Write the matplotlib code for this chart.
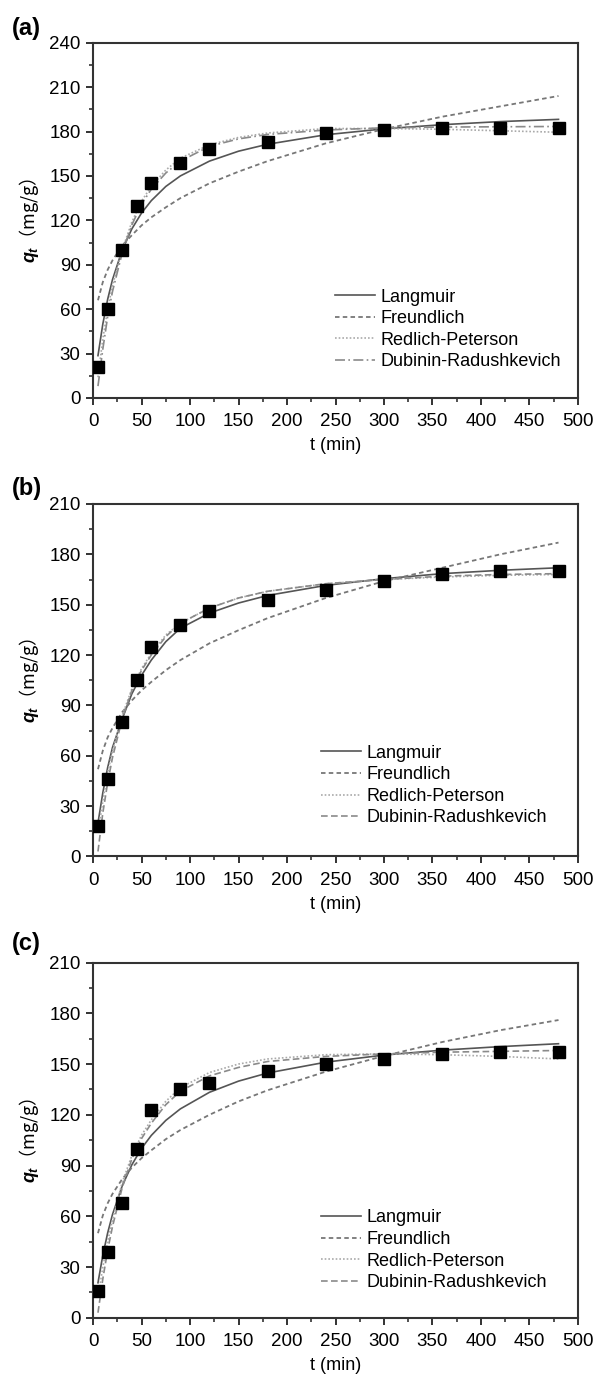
import numpy as np
import matplotlib
matplotlib.use('Agg')
import matplotlib.pyplot as plt
from matplotlib.ticker import MultipleLocator

plt.rcParams['font.family'] = ['Liberation Sans', 'Noto Sans CJK SC', 'DejaVu Sans']
plt.rcParams['mathtext.fontset'] = 'custom'
plt.rcParams['mathtext.it'] = 'Liberation Sans:italic:bold'
plt.rcParams['mathtext.rm'] = 'Liberation Sans'

# experimental points
t_exp = [5, 15, 30, 45, 60, 90, 120, 180, 240, 300, 360, 420, 480]
q_exp_a = [21, 60, 100, 130, 145, 159, 168, 173, 179, 181, 182.5, 182.5, 182.5]
q_exp_b = [18, 46, 80, 105, 125, 138, 146, 153, 159, 164, 168, 170, 170]
q_exp_c = [16, 39, 68, 100, 123, 135, 139, 146, 150, 153, 156, 157, 157]

# model curves
t_fit = [5, 10, 15, 20, 30, 40, 50, 60, 75, 90, 120, 150, 180, 240, 300, 360, 420, 480]

lang_a = [28.6, 50, 66.7, 80, 100, 114.3, 125, 133.3, 142.9, 150, 160, 166.7, 171.4, 177.8, 181.8, 184.6, 186.7, 188.2]
freu_a = [66, 78.3, 86.6, 93, 103, 110, 116.6, 122, 128.8, 135, 145, 152.9, 160, 172, 181.6, 190, 197, 204]
rp_a = [14, 40, 60, 76, 100, 119, 133, 143, 154, 162, 171, 176, 179, 182, 182, 181.5, 180.5, 179.5]
dr_a = [8, 33, 55, 72, 98, 117, 131, 141, 152, 160, 170, 175, 178, 181, 182.5, 183, 183.2, 183.4]

lang_b = [20, 38, 53, 65, 82, 97, 108, 117, 128, 136, 145, 151, 155.5, 161.5, 165.5, 168.5, 170.5, 172]
freu_b = [52, 63.1, 71, 76.6, 86, 93, 99, 104, 111, 117, 127, 134.8, 142, 154, 164, 172, 180, 187]
rp_b = [14, 33, 50, 63, 84, 100, 112, 121, 132, 139, 148, 154, 158, 162.5, 165, 166.5, 167.5, 168]
dr_b = [3, 26, 44, 59, 82, 99, 111, 120, 131, 139, 148, 154, 158, 162.5, 165, 167, 168, 168.5]

lang_c = [20.7, 37, 50.2, 61.1, 78, 90.5, 100.2, 107.8, 116.7, 123.5, 133.3, 139.9, 144.7, 151.1, 155.3, 158.2, 160.3, 162]
freu_c = [50, 60.5, 67.7, 73.3, 82, 88.8, 94.4, 99, 105.6, 111, 120, 127.9, 134.5, 145.5, 154.8, 163, 170, 176]
rp_c = [12, 30, 45, 58, 80, 96, 108, 117, 128, 136, 145, 150, 153, 155.5, 156, 155.5, 154.5, 153]
dr_c = [3, 23, 40, 54, 77, 94, 106, 115, 126, 134, 143, 148, 151.5, 154.5, 156, 157, 157.5, 158]

model_names = ['Langmuir', 'Freundlich', 'Redlich-Peterson', 'Dubinin-Radushkevich']
panel_letters = ['(a)', '(b)', '(c)']
y_tops = [240, 210, 210]

panels = [
    (q_exp_a, [lang_a, freu_a, rp_a, dr_a]),
    (q_exp_b, [lang_b, freu_b, rp_b, dr_b]),
    (q_exp_c, [lang_c, freu_c, rp_c, dr_c]),
]

fig = plt.figure(figsize=(5.97, 13.77), dpi=100)

# axes boxes in figure fractions: left, bottom, width, height
boxes = [
    [0.156, 0.711, 0.812, 0.258],
    [0.156, 0.378, 0.812, 0.256],
    [0.156, 0.043, 0.812, 0.258],
]
letter_y = [0.979, 0.6456, 0.315]
legend_anchor = [(0.485, 0.058), (0.455, 0.065), (0.455, 0.055)]

for k in range(3):
    ax = fig.add_axes(boxes[k])
    q_exp, fits = panels[k]

    dr_style = (0, (6, 2, 1, 2)) if k == 0 else (0, (4, 2))
    styles = [
        dict(color='#555555', ls='-', lw=1.2),
        dict(color='#777777', ls=(0, (2.5, 1.8)), lw=1.3),
        dict(color='#aaaaaa', ls=(0, (1, 1.2)), lw=1.2),
        dict(color='#8a8a8a', ls=dr_style, lw=1.2),
    ]
    for name, vals, st in zip(model_names, fits, styles):
        ax.plot(t_fit, vals, label=name, **st)

    ax.plot(t_exp, q_exp, 's', color='black', ms=8, zorder=5)

    ax.set_xlim(0, 500)
    ax.set_ylim(0, y_tops[k])
    ax.xaxis.set_major_locator(MultipleLocator(50))
    ax.xaxis.set_minor_locator(MultipleLocator(25))
    ax.yaxis.set_major_locator(MultipleLocator(30))
    ax.yaxis.set_minor_locator(MultipleLocator(15))
    ax.tick_params(which='major', direction='out', length=5, width=1.3, pad=4,
                   labelsize=13.5, colors='#222222', labelcolor='black')
    ax.tick_params(axis='x', which='major', pad=6)
    ax.tick_params(which='minor', direction='out', length=3, width=1.1, colors='#222222')
    for sp in ax.spines.values():
        sp.set_linewidth(1.5)
        sp.set_color('#333333')

    ax.set_xlabel('t (min)', fontsize=13, labelpad=5)
    ax.set_ylabel(r'$q_t$（mg/g）', fontsize=13, labelpad=6, family='Noto Sans CJK SC')

    ax.legend(loc='lower left', bbox_to_anchor=legend_anchor[k], frameon=False,
              fontsize=13, handlelength=2.2, handletextpad=0.3, labelspacing=0.25,
              borderaxespad=0)

    fig.text(0.02, letter_y[k], panel_letters[k], fontsize=17, fontweight='bold', va='center')

fig.savefig('out.png', dpi=100)
